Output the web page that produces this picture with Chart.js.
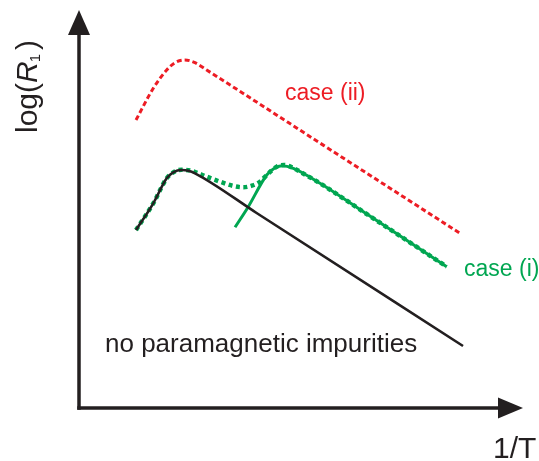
<!DOCTYPE html>
<html>
<head>
<meta charset="utf-8">
<script src="https://cdn.jsdelivr.net/npm/chart.js@4"></script>
<style>
  html, body { margin: 0; padding: 0; background: #ffffff; }
  #wrap { width: 539px; height: 461px; position: relative; }
</style>
</head>
<body>
<div id="wrap"><canvas id="c" width="539" height="461"></canvas></div>
<script>
// Relaxation rate log(R1) against inverse temperature (arbitrary units)

// Host without paramagnetic impurities
const invTPure = [1.284, 1.673, 1.975, 2.124, 2.313, 2.462, 2.613, 4.000, 8.649];
const logRPure = [4.472, 5.143, 5.771, 5.922, 5.980, 5.962, 5.897, 4.900, 1.558];

// Case (i): impurity contribution alone (solid)
const invTCase1 = [3.514, 3.813, 4.228, 4.392, 4.565, 4.827, 5.428, 6.500, 8.282];
const logRCase1 = [4.540, 5.058, 5.854, 6.018, 6.088, 6.023, 5.646, 4.859, 3.550];

// Case (i): total rate (dotted)
const invTCase1Total = [1.284, 1.673, 1.975, 2.124, 2.313, 2.500, 2.876, 3.176, 3.475, 3.700, 3.890, 4.077, 4.228, 4.453, 4.617, 4.827, 4.977, 5.428, 6.500, 8.282];
const logRCase1Total = [4.472, 5.143, 5.771, 5.922, 5.987, 5.967, 5.812, 5.686, 5.578, 5.545, 5.585, 5.686, 5.854, 6.063, 6.106, 6.030, 5.937, 5.646, 4.859, 3.550];

// Case (ii)
const invTCase2 = [1.284, 1.673, 1.975, 2.162, 2.387, 2.613, 2.876, 5.500, 8.581];
const logRCase2 = [7.236, 8.033, 8.492, 8.676, 8.744, 8.676, 8.492, 6.605, 4.389];

const curveLabels = ['no paramagnetic impurities', 'case (i)', 'case (ii)'];
const axisTitles = ['log(R', '1/T'];

const RED = '#ed1c24';
const GREEN = '#00a651';
const BLACK = '#231f20';
const FONT = '"Liberation Sans", Arial, sans-serif';

const pts = (xs, ys) => xs.map((x, i) => ({ x: x, y: ys[i] }));

// Axes with arrowheads plus the text labels
const sketchAxes = {
  id: 'sketchAxes',
  afterDraw(chart) {
    const ctx = chart.ctx;
    const a = chart.chartArea;
    const x0 = a.left, y0 = a.bottom;
    ctx.save();
    ctx.strokeStyle = BLACK;
    ctx.fillStyle = BLACK;
    ctx.lineWidth = 3.5;
    ctx.lineCap = 'butt';
    // vertical axis
    ctx.beginPath();
    ctx.moveTo(x0, y0 + 1.75);
    ctx.lineTo(x0, a.top + 22);
    ctx.stroke();
    ctx.beginPath();
    ctx.moveTo(x0, a.top);
    ctx.lineTo(x0 - 11, a.top + 25);
    ctx.lineTo(x0 + 11, a.top + 25);
    ctx.closePath();
    ctx.fill();
    // horizontal axis
    ctx.beginPath();
    ctx.moveTo(x0 - 1.75, y0);
    ctx.lineTo(a.right - 22, y0);
    ctx.stroke();
    ctx.beginPath();
    ctx.moveTo(a.right, y0);
    ctx.lineTo(a.right - 25, y0 - 10.5);
    ctx.lineTo(a.right - 25, y0 + 10.5);
    ctx.closePath();
    ctx.fill();

    // y-axis title: log(R1)
    ctx.save();
    ctx.translate(37, 133);
    ctx.rotate(-Math.PI / 2);
    ctx.textBaseline = 'alphabetic';
    ctx.textAlign = 'left';
    let cx = 0;
    ctx.font = '30px ' + FONT;
    ctx.fillText('log(', cx, 0);
    cx += ctx.measureText('log(').width;
    ctx.font = 'italic 30px ' + FONT;
    ctx.fillText('R', cx, 0);
    cx += ctx.measureText('R').width;
    ctx.font = '15px ' + FONT;
    ctx.fillText('1', cx - 1, 3);
    cx += ctx.measureText('1').width + 3;
    ctx.font = '30px ' + FONT;
    ctx.fillText(')', cx, 0);
    ctx.restore();

    // x-axis title
    ctx.font = '30px ' + FONT;
    ctx.textAlign = 'left';
    ctx.textBaseline = 'alphabetic';
    ctx.fillText(axisTitles[1], 493, 458);

    // curve labels
    ctx.font = '26px ' + FONT;
    ctx.fillStyle = BLACK;
    ctx.fillText(curveLabels[0], 105, 352);
    ctx.font = '23px ' + FONT;
    ctx.fillStyle = GREEN;
    ctx.fillText(curveLabels[1], 464, 276);
    ctx.fillStyle = RED;
    ctx.fillText(curveLabels[2], 285, 100);
    ctx.restore();
  }
};

new Chart(document.getElementById('c'), {
  type: 'scatter',
  data: {
    datasets: [
      {
        label: curveLabels[0],
        data: pts(invTPure, logRPure),
        borderColor: BLACK,
        borderWidth: 2.6
      },
      {
        label: curveLabels[1],
        data: pts(invTCase1, logRCase1),
        borderColor: GREEN,
        borderWidth: 3
      },
      {
        label: curveLabels[1] + ' total',
        data: pts(invTCase1Total, logRCase1Total),
        borderColor: GREEN,
        borderWidth: 4.5,
        borderDash: [4, 3.5]
      },
      {
        label: curveLabels[2],
        data: pts(invTCase2, logRCase2),
        borderColor: RED,
        borderWidth: 3,
        borderDash: [5, 3]
      }
    ].map(d => Object.assign({
      showLine: true,
      pointRadius: 0,
      pointHoverRadius: 0,
      cubicInterpolationMode: 'monotone',
      fill: false,
      borderCapStyle: 'butt'
    }, d))
  },
  options: {
    responsive: false,
    devicePixelRatio: 1,
    animation: false,
    events: [],
    layout: { padding: { left: 79, right: 16, top: 10, bottom: 53 } },
    plugins: { legend: { display: false }, tooltip: { enabled: false } },
    scales: {
      x: { type: 'linear', display: false, min: 0, max: 10 },
      y: { type: 'linear', display: false, min: 0, max: 10 }
    }
  },
  plugins: [sketchAxes]
});
</script>
</body>
</html>
